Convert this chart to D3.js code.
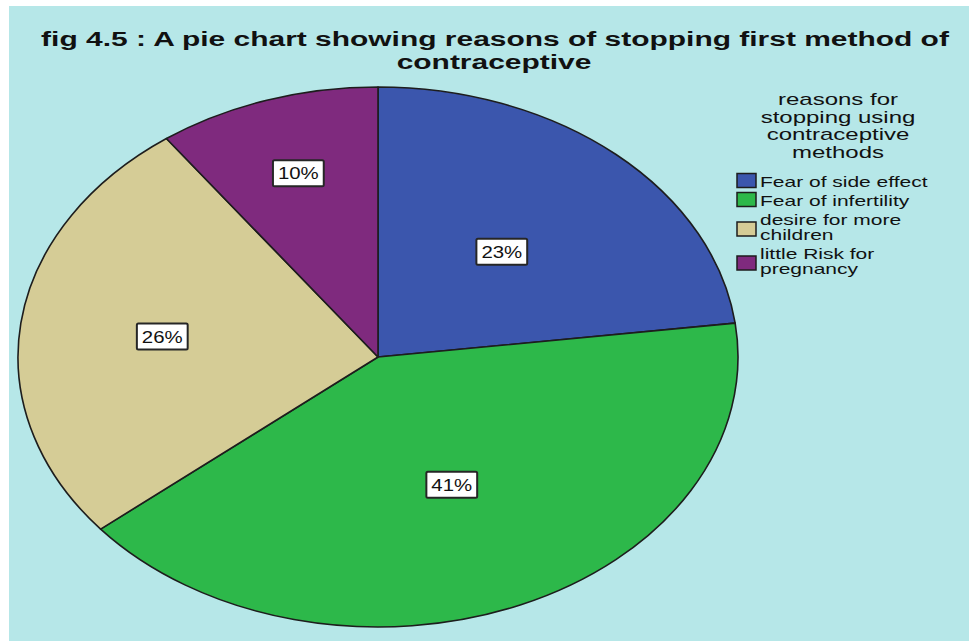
<!DOCTYPE html>
<html>
<head>
<meta charset="utf-8">
<script src="https://cdn.jsdelivr.net/npm/d3@7/dist/d3.min.js"></script>
<style>
  html, body { margin: 0; padding: 0; background: #ffffff; }
  svg { display: block; }
  text { font-family: "Liberation Sans", Arial, Helvetica, sans-serif; fill: #111; }
</style>
</head>
<body>
<svg id="chart" width="969" height="641"></svg>
<script>
// ---- data ----
const titleLines = ["fig 4.5 : A pie chart showing reasons of stopping first method of", "contraceptive"];
const legendTitleLines = ["reasons for", "stopping using", "contraceptive", "methods"];
const categories = ["Fear of side effect", "Fear of infertility", "desire for more children", "little Risk for pregnancy"];
const percentages = [23, 41, 26, 10];
const sliceColors = ["#3b56ad", "#2db84a", "#d5cc96", "#7f2a7e"];

// ---- layout ----
const W = 969, H = 641;
const panel = { x: 9, y: 6, w: W - 9, h: H - 6, fill: "#b6e7e8" };
const pieCenter = { x: 378, y: 357 };
const rx = 360, ry = 270;
const labelRadius = [0.52, 0.516, 0.604, 0.716];   // radial position of each % label (fraction of radius)

const svg = d3.select("#chart");

svg.append("rect")
  .attr("x", panel.x).attr("y", panel.y)
  .attr("width", panel.w).attr("height", panel.h)
  .attr("fill", panel.fill);

// helper: horizontally stretched text
function stretchedText(parent, str, x, y, size, weight, sx, anchor) {
  return parent.append("text")
    .attr("transform", `translate(${x},${y}) scale(${sx},1)`)
    .attr("text-anchor", anchor)
    .attr("font-size", size)
    .attr("font-weight", weight)
    .text(str);
}

// ---- title ----
const titleG = svg.append("g");
const titleSize = 21;
const probe = titleG.append("text").attr("font-size", titleSize).attr("font-weight", "bold").text(titleLines[0]);
const titleSx = 908 / probe.node().getComputedTextLength();
probe.remove();
stretchedText(titleG, titleLines[0], 495, 46, titleSize, "bold", titleSx, "middle");
stretchedText(titleG, titleLines[1], 494, 69, titleSize, "bold", titleSx, "middle");

// ---- pie ----
const pie = d3.pie().sort(null).value(d => d).startAngle(0).endAngle(2 * Math.PI);
const arcs = pie(percentages);
const arc = d3.arc().innerRadius(0).outerRadius(ry);

const pieG = svg.append("g")
  .attr("transform", `translate(${pieCenter.x},${pieCenter.y}) scale(${rx / ry},1)`);

pieG.selectAll("path.slice")
  .data(arcs)
  .join("path")
  .attr("class", "slice")
  .attr("d", arc)
  .attr("fill", (d, i) => sliceColors[i])
  .attr("stroke", "#1d1d1d")
  .attr("stroke-width", 1.6)
  .attr("stroke-linejoin", "round")
  .attr("vector-effect", "non-scaling-stroke");

// ---- percentage labels ----
const labelG = svg.append("g");
arcs.forEach((d, i) => {
  const a = (d.startAngle + d.endAngle) / 2;
  const f = labelRadius[i];
  const x = pieCenter.x + rx * f * Math.sin(a);
  const y = pieCenter.y - ry * f * Math.cos(a);
  const g = labelG.append("g").attr("transform", `translate(${x},${y})`);
  const box = g.append("rect");
  const t = g.append("text")
    .attr("transform", "scale(1.2,1)")
    .attr("text-anchor", "middle")
    .attr("dy", "0.36em")
    .attr("font-size", 17)
    .text(d3.format(".0f")(d.data) + "%");
  const tw = t.node().getComputedTextLength() * 1.2;
  const bw = tw + 10, bh = 26;
  box.attr("x", -bw / 2).attr("y", -bh / 2)
    .attr("width", bw).attr("height", bh)
    .attr("rx", 1.5)
    .attr("fill", "#ffffff")
    .attr("stroke", "#262626")
    .attr("stroke-width", 2);
});

// ---- legend ----
const legendG = svg.append("g");
const legendCx = 838;
legendTitleLines.forEach((line, i) => {
  stretchedText(legendG, line, legendCx, 105 + i * 17.5, 16, "normal", 1.5, "middle")
    .attr("fill", "#1a1a1a");
});

const itemSx = 1.5, itemSize = 14, maxItemW = 172, lineStep = 15;
const textX = 760, swatchX = 737;
let baseY = 187;
categories.forEach((cat, i) => {
  // wrap label words to the legend width
  const words = cat.split(" ");
  const lines = [];
  let cur = "";
  const meas = legendG.append("text").attr("font-size", itemSize);
  words.forEach(w => {
    const test = cur ? cur + " " + w : w;
    meas.text(test);
    if (meas.node().getComputedTextLength() * itemSx > maxItemW && cur) {
      lines.push(cur);
      cur = w;
    } else {
      cur = test;
    }
  });
  lines.push(cur);
  meas.remove();

  const firstBase = baseY;
  lines.forEach((ln, j) => {
    stretchedText(legendG, ln, textX, firstBase + j * lineStep, itemSize, "normal", itemSx, "start");
  });
  const midY = lines.length === 1 ? firstBase - 6.5 : firstBase + 4;
  legendG.append("rect")
    .attr("x", swatchX).attr("y", midY - 7)
    .attr("width", 19).attr("height", 14)
    .attr("fill", sliceColors[i])
    .attr("stroke", "#1d1d1d")
    .attr("stroke-width", 1.5);
  baseY = firstBase + (lines.length - 1) * lineStep + 19;
});
</script>
</body>
</html>
